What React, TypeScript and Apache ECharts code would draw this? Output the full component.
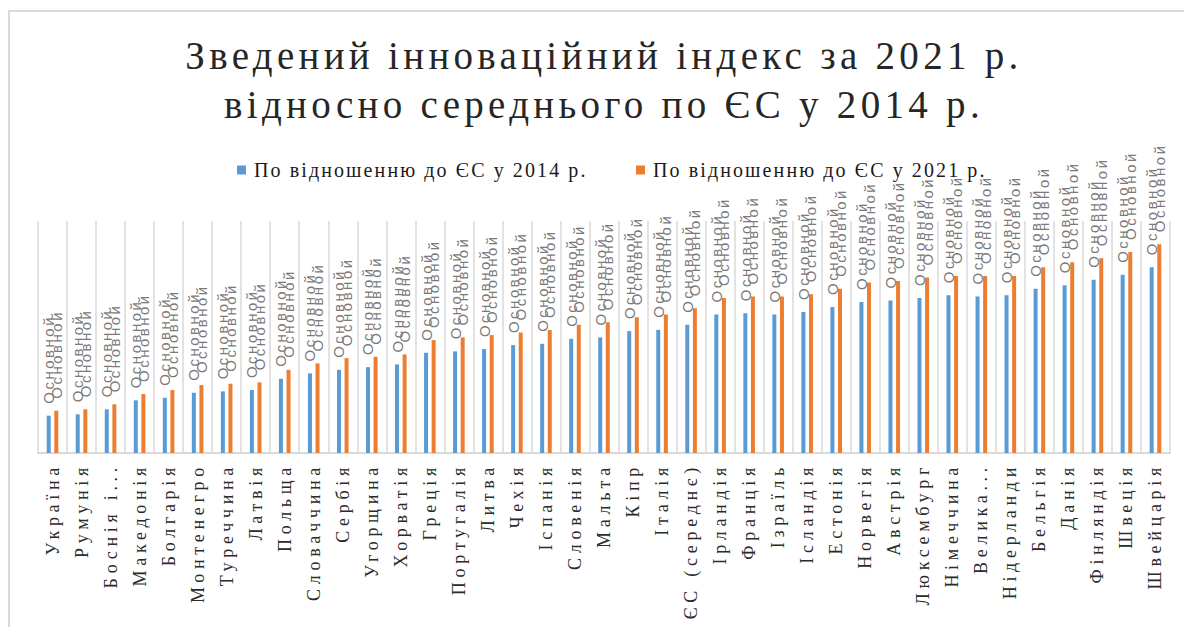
import React, { useEffect, useRef } from "react";
import * as echarts from "echarts";

const TITLE_LINES = ["Зведений інноваційний індекс за 2021 р.", "відносно середнього по ЄС у 2014 р."];
const SERIES_NAMES = ["По відношенню до ЄС у 2014 р.", "По відношенню до ЄС у 2021 р."];
const LABEL_TEXT = "Основной";

const categories = [
  "Україна", "Румунія", "Боснія і...", "Македонія", "Болгарія", "Монтенегро", "Туреччина", "Латвія",
  "Польща", "Словаччина", "Сербія", "Угорщина", "Хорватія", "Греція", "Португалія", "Литва", "Чехія",
  "Іспанія", "Словенія", "Мальта", "Кіпр", "Італія", "ЄС (середнє)", "Ірландія", "Франція", "Ізраїль",
  "Ісландія", "Естонія", "Норвегія", "Австрія", "Люксембург", "Німеччина", "Велика...", "Нідерланди",
  "Бельгія", "Данія", "Фінляндія", "Швеція", "Швейцарія",
];

const values2014 = [
  29.1, 30.2, 34.1, 41.1, 43.1, 47.0, 48.1, 49.1, 57.9, 62.1, 64.9, 67.0, 69.1, 78.2, 79.3, 81.1, 84.2,
  85.2, 89.1, 90.2, 95.1, 96.1, 100.0, 108.1, 109.1, 108.1, 110.1, 114.0, 117.9, 119.0, 121.0, 123.1,
  122.1, 123.1, 128.1, 130.9, 135.1, 139.0, 145.0,
];

const values2021 = [
  33.0, 34.1, 38.0, 46.0, 49.1, 53.0, 54.0, 55.1, 64.9, 69.9, 74.0, 75.1, 76.9, 88.1, 90.2, 92.0, 94.1,
  95.9, 100.0, 102.1, 106.0, 108.1, 113.0, 121.0, 122.1, 122.1, 123.9, 128.1, 133.0, 134.1, 136.9, 138.0,
  138.0, 138.0, 145.0, 148.9, 152.0, 156.9, 162.9,
];

const COLORS = ["#5b9bd5", "#ed7d31"];
const GRID_COLOR = "#d9d9d9";
const SERIF = "Liberation Serif";
const SANS = "Liberation Sans";

// letter spacing by font size (px)
const SPACING: Record<string, number> = { "39": 4.3, "20": 2.1, "18": 4.7, "15": 2.5 };

export default function App() {
  const ref = useRef<HTMLDivElement>(null);

  useEffect(() => {
    if (!ref.current) return;
    const el = ref.current;
    const chart = echarts.init(el, undefined, { renderer: "svg" });

    const barLabel = {
      show: true,
      position: "top",
      rotate: 90,
      align: "left",
      verticalAlign: "middle",
      distance: 12,
      formatter: () => LABEL_TEXT,
      color: "#7a7a7a",
      fontFamily: SANS,
      fontSize: 15,
    };

    const legendBase = {
      icon: "rect",
      itemWidth: 9,
      itemHeight: 9,
      itemGap: 0,
      padding: 0,
      top: 152,
      selectedMode: false,
      textStyle: { fontFamily: SERIF, fontSize: 20, color: "#1a1a1a", padding: [0, 0, 0, 3] },
    };

    chart.setOption({
      animation: false,
      graphic: [
        { type: "line", shape: { x1: 1, y1: 3, x2: 1, y2: 700 }, style: { stroke: GRID_COLOR, lineWidth: 2 } },
        { type: "line", shape: { x1: 0, y1: 3, x2: 1300, y2: 3 }, style: { stroke: GRID_COLOR, lineWidth: 2 } },
        {
          type: "text",
          x: 596,
          y: 23,
          style: {
            text: TITLE_LINES.join("\n"),
            fontFamily: SERIF,
            fontSize: 39,
            lineHeight: 49,
            fill: "#262626",
            align: "center",
            verticalAlign: "top",
          },
        },
      ],
      legend: [
        { ...legendBase, left: 229, data: [SERIES_NAMES[0]] },
        { ...legendBase, left: 628, data: [SERIES_NAMES[1]] },
      ],
      grid: { left: 30, top: 213, width: 1132, height: 232, containLabel: false },
      xAxis: {
        type: "category",
        data: categories,
        axisLine: { lineStyle: { color: GRID_COLOR, width: 2 } },
        axisTick: { show: false },
        splitLine: { show: true, interval: 0, lineStyle: { color: GRID_COLOR, width: 1.5 } },
        axisLabel: {
          interval: 0,
          rotate: 90,
          margin: 10,
          fontFamily: SERIF,
          fontSize: 18,
          color: "#2b2b2b",
        },
      },
      yAxis: { type: "value", show: false, min: 0, max: 181, splitLine: { show: false } },
      series: [
        {
          name: SERIES_NAMES[0],
          type: "bar",
          data: values2014,
          barWidth: 4,
          barGap: "90%",
          itemStyle: { color: COLORS[0] },
          label: barLabel,
        },
        {
          name: SERIES_NAMES[1],
          type: "bar",
          data: values2021,
          barWidth: 4,
          barGap: "90%",
          itemStyle: { color: COLORS[1] },
          label: barLabel,
        },
      ],
    });

    const applySpacing = () => {
      el.querySelectorAll("text").forEach((t) => {
        const s = (t.getAttribute("style") || "") + " " + (t.getAttribute("font-size") || "");
        const m = s.match(/(\d+(?:\.\d+)?)px/);
        if (!m) return;
        const ls = SPACING[String(Math.round(parseFloat(m[1])))];
        if (ls) t.setAttribute("letter-spacing", ls + "px");
      });
    };
    applySpacing();
    chart.on("finished", applySpacing);
    const timer = setTimeout(applySpacing, 50);

    return () => {
      clearTimeout(timer);
      chart.dispose();
    };
  }, []);

  return <div ref={ref} style={{ width: 1176, height: 619 }} />;
}
